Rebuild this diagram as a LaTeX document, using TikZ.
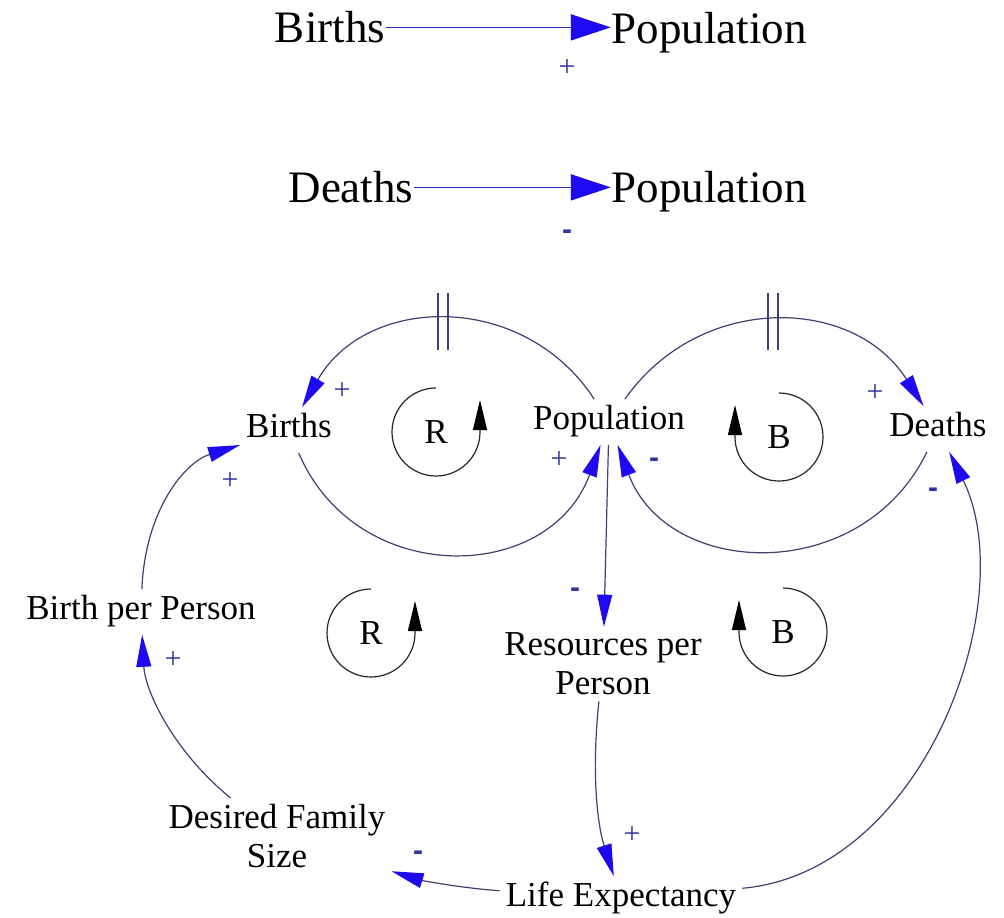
\documentclass[tikz,border=0pt]{standalone}
\usepackage{fontspec}
\setmainfont{Liberation Serif}
\newfontfamily\signfont{Liberation Sans}
\usetikzlibrary{arrows.meta}
\definecolor{linec}{RGB}{64,64,112}
\definecolor{tipc}{RGB}{30,10,240}
\definecolor{signc}{RGB}{50,50,160}
\definecolor{topline}{RGB}{40,40,190}
\begin{document}
\begin{tikzpicture}[x=1pt,y=1pt,
  var/.style={font=\fontsize{35}{40}\selectfont, inner sep=6pt, text height=24.5pt, text depth=8.75pt},
  var2/.style={font=\fontsize{35}{39}\selectfont, inner sep=6pt, align=center},
  topvar/.style={font=\fontsize{45}{50}\selectfont, inner sep=0.5pt, text height=33.75pt, text depth=4.5pt, anchor=base},
  link/.style={draw=linec, line width=1.2pt, -{Triangle[length=32pt,width=15pt,color=tipc]}},
  toplink/.style={draw=topline, line width=1.5pt, -{Triangle[length=40pt,width=26pt,color=tipc]}},
  loopc/.style={draw=black!85, line width=1.2pt, -{Triangle[length=30pt,width=14pt,color=black]}},
  looplbl/.style={font=\fontsize{35}{40}\selectfont, inner sep=0pt},
  plus/.style={font=\fontsize{30}{30}\selectfont, text=signc, inner sep=0pt},
  minus/.style={font=\signfont\bfseries\fontsize{30}{30}\selectfont, text=signc, inner sep=0pt},
  delay/.style={draw=linec, line width=1.2pt}
]
\useasboundingbox[fill=white] (0,0) rectangle (1004,-918);

% ---- top examples ----
\node[topvar] (tb) at (330,-42) {Births};
\node[topvar] (tp1) at (709,-43) {Population};
\draw[toplink] (tb.east) -- (tb.east -| tp1.west);
\node[plus] (tplus) at (567,-68) {+};

\node[topvar] (td) at (351,-202) {Deaths};
\node[topvar] (tp2) at (709,-202) {Population};
\draw[toplink] (td.east) -- (td.east -| tp2.west);
\node[minus] (tminus) at (567,-235) {-};

% ---- causal loop diagram ----
\node[var] (births) at (289,-430) {Births};
\node[var] (pop) at (609,-422) {Population};
\node[var] (deaths) at (938,-429) {Deaths};
\node[var] (bpp) at (141,-612) {Birth per Person};
\node[var2] (res) at (603,-664) {Resources per\\Person};
\node[var2] (dfs) at (277,-836) {Desired Family\\Size};
\node[var] (life) at (621,-899) {Life Expectancy};

% loop markers
\node[looplbl] (r1) at (436,-432) {R};
\draw[loopc] (r1.center) ++(0,44) arc[start angle=90,end angle=360,radius=44] -- ++(0,32);
\node[looplbl] (r2) at (371,-633) {R};
\draw[loopc] (r2.center) ++(0,44) arc[start angle=90,end angle=360,radius=44] -- ++(0,32);
\node[looplbl] (b1) at (779,-437) {B};
\draw[loopc] (b1.center) ++(0,44) arc[start angle=90,end angle=-180,radius=44] -- ++(0,32);
\node[looplbl] (b2) at (783,-632) {B};
\draw[loopc] (b2.center) ++(0,44) arc[start angle=90,end angle=-180,radius=44] -- ++(0,32);

% connectors
\draw[link] (pop) .. controls (524,-291) and (367,-294) .. (births);
\draw[link] (pop) .. controls (699,-293) and (853,-295) .. (deaths);
\draw[link] (births) .. controls (356,-588) and (549,-585) .. (pop);
\draw[link] (deaths) .. controls (862,-586) and (668,-579) .. (pop);
\draw[link] (pop) -- (res);
\draw[link] (res) .. controls (592,-765) and (596,-820) .. (life);
\draw[link] (life) .. controls (925,-872) and (1022,-600) .. (deaths);
\draw[link] (life) .. controls (460,-888) and (420,-880) .. (dfs);
\draw[link] (dfs) .. controls (172,-750) and (145,-690) .. (bpp);
\draw[link] (bpp) .. controls (145,-510) and (185,-462) .. (births);

% delay marks
\draw[delay] (438,-293) -- (438,-350);
\draw[delay] (448,-293) -- (448,-350);
\draw[delay] (768,-293) -- (768,-350);
\draw[delay] (778,-293) -- (778,-350);

% polarities
\node[plus] at (342,-391) {+};
\node[plus] at (875,-393) {+};
\node[plus] at (559,-460) {+};
\node[minus] at (654,-463) {-};
\node[plus] at (230,-481) {+};
\node[plus] at (173,-660) {+};
\node[minus] at (575,-593) {-};
\node[plus] at (632,-835) {+};
\node[minus] at (933,-493) {-};
\node[minus] at (418,-856) {-};
\end{tikzpicture}
\end{document}
